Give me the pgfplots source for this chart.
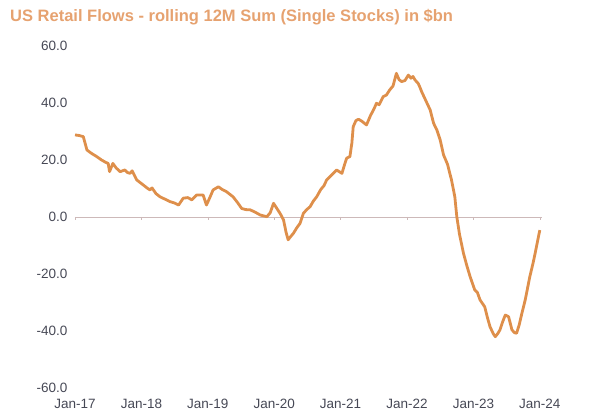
\documentclass[border=0pt]{standalone}
\usepackage{pgfplots}
\pgfplotsset{compat=1.18}
\usepackage{fontspec}
\setmainfont{Liberation Sans}
\definecolor{lineor}{RGB}{222,143,75}
\definecolor{titleor}{RGB}{230,162,112}
\definecolor{ticktxt}{RGB}{70,72,85}
\definecolor{zeroln}{RGB}{205,185,185}
\begin{document}
\begin{tikzpicture}
\path[use as bounding box] (-75pt,-26pt) rectangle (515pt,388pt);
% x = years since January 2017
\begin{axis}[
  at={(0,0)}, anchor=south west,
  scale only axis,
  width=466.8pt, height=342pt,
  xmin=0, xmax=7.03,
  ymin=-60, ymax=60,
  axis line style={draw=none},
  tick style={draw=none},
  xtick={0,1,2,3,4,5,6,7},
  xticklabels={Jan-17,Jan-18,Jan-19,Jan-20,Jan-21,Jan-22,Jan-23,Jan-24},
  ytick={-60,-40,-20,0,20,40,60},
  /pgf/number format/assume math mode=true,
  yticklabel style={/pgf/number format/.cd, fixed, fixed zerofill, precision=1, /tikz/xshift=-4pt},
  xticklabel style={yshift=-8pt},
  tick label style={font=\fontsize{13.5}{14}\selectfont, text=ticktxt},
  clip=false,
]
\draw[zeroln, line width=0.8pt] (axis cs:0,0) -- (axis cs:7.03,0);
\pgfplotsinvokeforeach{0,1,2,3,4,5,6,7}{
  \draw[zeroln, line width=0.6pt] (axis cs:#1,0) -- (axis cs:#1,-1.1);
}
\addplot[lineor, line width=2.8pt, line join=round] coordinates {
(0.00,28.8) (0.06,28.6) (0.125,28.2) (0.18,23.5) (0.25,22.3)
(0.32,21.3) (0.40,20.0) (0.46,19.2) (0.50,18.8) (0.52,15.9)
(0.57,18.8) (0.62,17.2) (0.68,15.9) (0.75,16.5) (0.79,15.6)
(0.83,15.3) (0.86,16.2) (0.93,13.0) (1.03,11.2) (1.09,10.1)
(1.13,9.5) (1.16,10.2) (1.22,8.2) (1.28,7.1) (1.36,6.2)
(1.43,5.4) (1.50,4.9) (1.56,4.2) (1.63,6.6) (1.70,6.8)
(1.76,6.0) (1.83,7.7) (1.93,7.7) (1.98,4.2) (2.03,6.8)
(2.08,9.5) (2.16,10.6) (2.22,9.6) (2.28,8.9) (2.38,7.1)
(2.45,5.0) (2.51,3.0) (2.57,2.6) (2.64,2.5) (2.72,1.6)
(2.79,0.7) (2.89,0.1) (2.94,1.5) (2.99,4.8) (3.04,3.0)
(3.09,1.2) (3.14,-1.0) (3.18,-5.5) (3.21,-8.0) (3.25,-6.8)
(3.29,-5.7) (3.34,-3.8) (3.39,-2.2) (3.44,1.3) (3.49,2.6)
(3.54,3.6) (3.59,5.6) (3.64,7.1) (3.70,9.6) (3.75,11.0)
(3.79,13.0) (3.86,14.6) (3.94,16.5) (4.02,15.3) (4.06,18.4)
(4.09,20.6) (4.14,21.2) (4.17,26.0) (4.19,31.7) (4.23,33.8)
(4.27,34.3) (4.32,33.6) (4.39,32.3) (4.45,35.6) (4.50,37.8)
(4.54,39.9) (4.58,39.4) (4.64,42.2) (4.69,42.8) (4.74,44.6)
(4.79,46.0) (4.84,50.4) (4.88,48.2) (4.92,47.5) (4.97,47.9)
(5.02,49.8) (5.06,48.7) (5.09,49.3) (5.12,48.1) (5.17,46.8)
(5.20,45.2) (5.22,44.0) (5.28,41.0) (5.35,37.5) (5.40,32.9)
(5.45,30.5) (5.50,27.0) (5.55,21.8) (5.61,18.5) (5.67,13.0)
(5.72,7.1) (5.75,0.1) (5.79,-6.0) (5.85,-12.7) (5.90,-17.0)
(5.95,-20.9) (6.02,-25.6) (6.06,-26.5) (6.10,-29.1) (6.17,-31.5)
(6.21,-35.2) (6.25,-38.5) (6.30,-41.0) (6.33,-42.0) (6.37,-40.8)
(6.40,-39.6) (6.44,-36.8) (6.48,-34.4) (6.53,-35.0) (6.58,-39.6)
(6.62,-40.6) (6.65,-40.8) (6.69,-37.8) (6.73,-33.8) (6.78,-29.1)
(6.85,-20.9) (6.90,-16.0) (6.93,-12.7) (6.97,-8.0) (7.00,-4.6)
};
\end{axis}
\node[anchor=west, text=titleor, inner sep=0pt] at (-65pt,371pt)
  {\fontsize{16.5}{18}\selectfont\bfseries US Retail Flows - rolling 12M Sum (Single Stocks) in \$bn};
\end{tikzpicture}
\end{document}
